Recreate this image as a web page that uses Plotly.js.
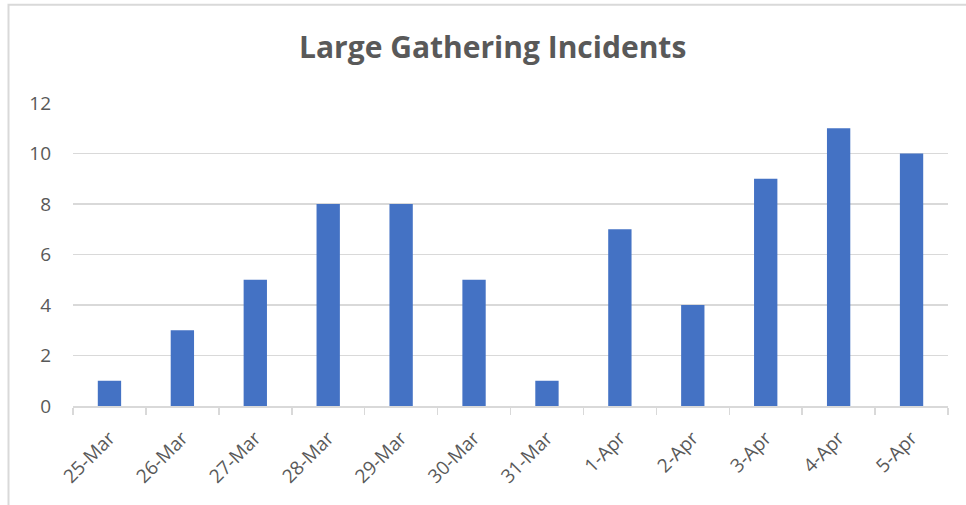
<!DOCTYPE html>
<html><head><meta charset="utf-8">
<script src="https://cdn.plot.ly/plotly-3.0.1.min.js"></script>
<style>html,body{margin:0;padding:0;background:#fff;}#c{width:966px;height:505px;}</style>
</head><body><div id="c"></div>
<script>
const categories = ["25-Mar","26-Mar","27-Mar","28-Mar","29-Mar","30-Mar","31-Mar","1-Apr","2-Apr","3-Apr","4-Apr","5-Apr"];
const incidents = [1,3,5,8,8,5,1,7,4,9,11,10];
const yTicks = [0,2,4,6,8,10,12];

Plotly.newPlot('c', [{
  type: 'bar', x: categories, y: incidents,
  marker: {color: '#4472C4', line: {width: 0}},
  width: 0.32, hoverinfo: 'none'
}], {
  width: 966, height: 505,
  margin: {l: 73, r: 18, t: 103, b: 99},
  paper_bgcolor: '#fff', plot_bgcolor: '#fff',
  title: {text: 'Large Gathering Incidents', x: 0.51, xanchor: 'center', y: 0.905, yanchor: 'middle',
    font: {family: 'Open Sans, sans-serif', size: 30, color: '#595959', weight: 'bold'}},
  xaxis: {type: 'category', tickangle: -45, tickson: 'boundaries', ticks: 'outside', ticklen: 7, tickcolor: '#d9d9d9', tickwidth: 1.5,
    showline: true, linecolor: '#d9d9d9', linewidth: 1.5, showgrid: false, ticklabelstandoff: 12,
    tickfont: {family: 'Open Sans, sans-serif', size: 19, color: '#595959'}},
  yaxis: {range: [0, 12], tickvals: yTicks, showgrid: true, gridcolor: '#d9d9d9', gridwidth: 1.5,
    zeroline: false, showline: false, ticks: '', ticklabelstandoff: 21,
    tickfont: {family: 'Open Sans, sans-serif', size: 19, color: '#595959'}},
  shapes: [{type: 'rect', xref: 'paper', yref: 'paper', x0: -64.5/875, x1: 1.05, y0: -0.5, y1: 1 + 98/302,
    line: {color: '#d9d9d9', width: 2}, fillcolor: 'rgba(0,0,0,0)'}],
  showlegend: false
}, {staticPlot: true});
</script></body></html>
